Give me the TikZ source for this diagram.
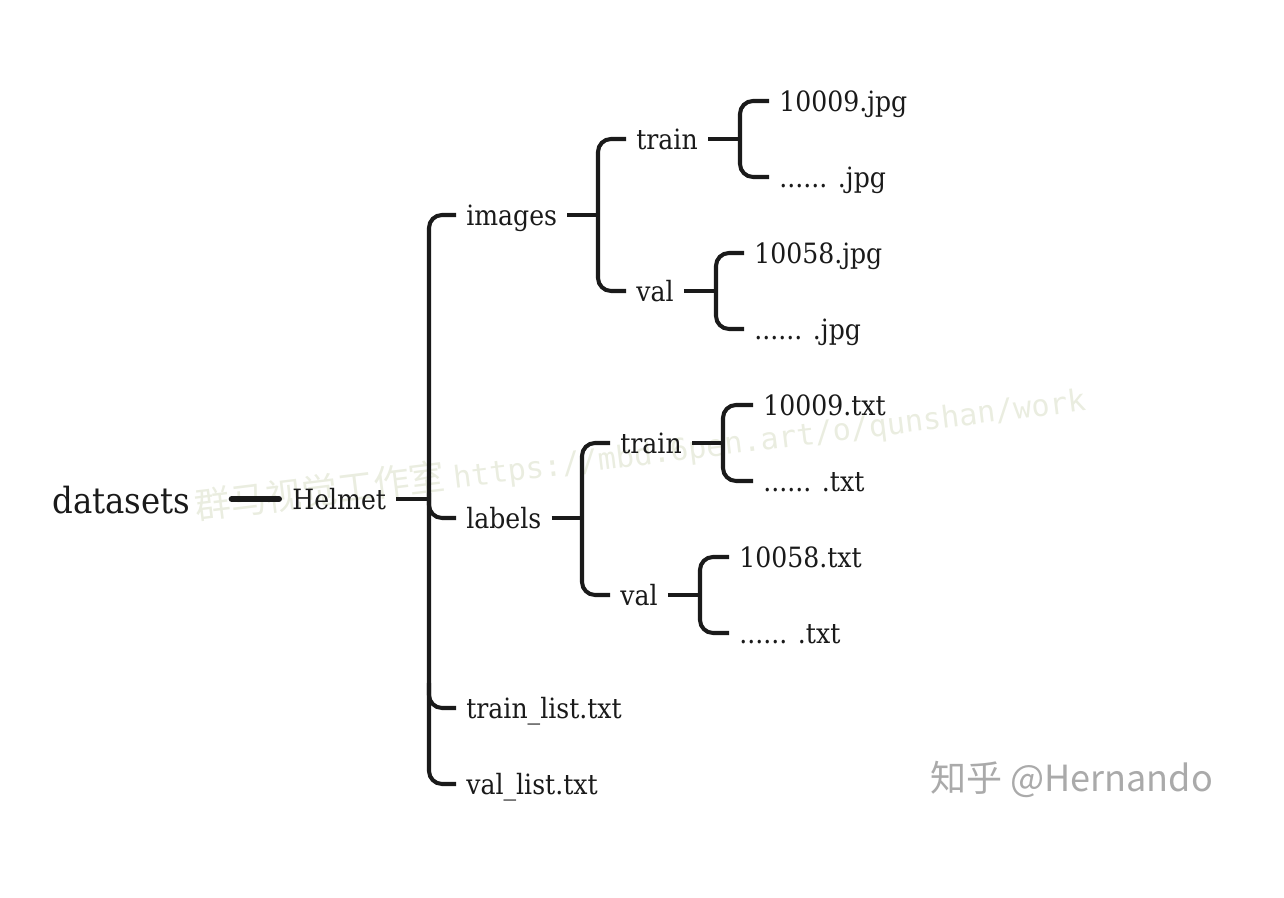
\documentclass[tikz,border=0pt]{standalone}
\usepackage{fontspec}
\setmainfont{DejaVu Serif}[FakeStretch=0.9]
\newfontfamily\cjkfont{Noto Sans CJK SC}
\newfontfamily\markfont{DejaVu Sans Mono}
\usepackage{xcolor}
\usepackage{tikz}
\usetikzlibrary{calc}
\definecolor{ink}{HTML}{1A1A1A}
\definecolor{wmark}{RGB}{234,237,224}
\definecolor{zhgray}{RGB}{170,170,170}

\begin{document}
\begin{tikzpicture}[
        item/.style={anchor=west, inner xsep=0.2cm, inner ysep=0pt, text height=12.4pt, text depth=1pt, text=ink, font=\fontsize{15.9}{19}\selectfont},
        branch/.style={draw=ink, line width=2.3pt, rounded corners=0.26cm},
        trunk/.style={draw=ink, line width=3.4pt, line cap=round}
    ]
        \useasboundingbox (0,0) rectangle (25.68,17.96);

        % watermarks
        \node[anchor=base west, rotate=7, inner sep=0pt, text=wmark, font=\cjkfont\fontsize{20.5}{24}\selectfont] (wmQunshan) at (3.92,7.56) {群马视觉工作室 {\markfont\fontsize{17.2}{20}\selectfont https://mbd.6pen.art/o/qunshan/work}};
        \node[anchor=west, inner sep=0pt, text=zhgray, font=\cjkfont\fontsize{20.5}{24}\selectfont] (wmZhihu) at (18.60,2.38) {知乎 @Hernando};

        % root
        \node[item, font=\fontsize{20.5}{24}\selectfont, text height=17pt, text depth=1pt] (datasets) at (0.84,7.98) {datasets};
        \node[item] (helmet) at (5.64,7.98) {Helmet};
        \draw[trunk, shorten <=0.62cm, shorten >=0.06cm] (datasets.east) -- (helmet.west);

        % Helmet
        \coordinate (helFork) at (8.58,7.98);
        \node[item] (images) at (9.12,13.66) {images};
        \node[item] (labels) at (9.12,7.60) {labels};
        \node[item] (trainList) at (9.12,3.80) {train\_list.txt};
        \node[item] (valList) at (9.12,2.28) {val\_list.txt};
        \draw[branch] (helmet.east) -- (helFork);
        \draw[branch] (images.west) -| (helFork |- valList.west) -- (valList.west);
        \draw[branch] ($(helFork |- labels.west)+(0,0.5)$) |- (labels.west);
        \draw[branch] ($(helFork |- trainList.west)+(0,0.5)$) |- (trainList.west);

        % images
        \coordinate (imgFork) at (11.96,13.66);
        \node[item] (imgTrain) at (12.52,15.18) {train};
        \node[item] (imgVal) at (12.52,12.14) {val};
        \draw[branch] (images.east) -- (imgFork);
        \draw[branch] (imgTrain.west) -| (imgFork |- imgVal.west) -- (imgVal.west);

        \coordinate (imgTrainFork) at (14.80,15.18);
        \node[item] (imgTrainFirst) at (15.38,15.94) {10009.jpg};
        \node[item] (imgTrainRest) at (15.38,14.42) {...... .jpg};
        \draw[branch] (imgTrain.east) -- (imgTrainFork);
        \draw[branch] (imgTrainFirst.west) -| (imgTrainFork |- imgTrainRest.west) -- (imgTrainRest.west);

        \coordinate (imgValFork) at (14.32,12.14);
        \node[item] (imgValFirst) at (14.88,12.90) {10058.jpg};
        \node[item] (imgValRest) at (14.88,11.38) {...... .jpg};
        \draw[branch] (imgVal.east) -- (imgValFork);
        \draw[branch] (imgValFirst.west) -| (imgValFork |- imgValRest.west) -- (imgValRest.west);

        % labels
        \coordinate (lblFork) at (11.64,7.60);
        \node[item] (lblTrain) at (12.20,9.10) {train};
        \node[item] (lblVal) at (12.20,6.06) {val};
        \draw[branch] (labels.east) -- (lblFork);
        \draw[branch] (lblTrain.west) -| (lblFork |- lblVal.west) -- (lblVal.west);

        \coordinate (lblTrainFork) at (14.46,9.10);
        \node[item] (lblTrainFirst) at (15.06,9.86) {10009.txt};
        \node[item] (lblTrainRest) at (15.06,8.34) {...... .txt};
        \draw[branch] (lblTrain.east) -- (lblTrainFork);
        \draw[branch] (lblTrainFirst.west) -| (lblTrainFork |- lblTrainRest.west) -- (lblTrainRest.west);

        \coordinate (lblValFork) at (14.00,6.06);
        \node[item] (lblValFirst) at (14.58,6.82) {10058.txt};
        \node[item] (lblValRest) at (14.58,5.30) {...... .txt};
        \draw[branch] (lblVal.east) -- (lblValFork);
        \draw[branch] (lblValFirst.west) -| (lblValFork |- lblValRest.west) -- (lblValRest.west);
    \end{tikzpicture}
\end{document}
